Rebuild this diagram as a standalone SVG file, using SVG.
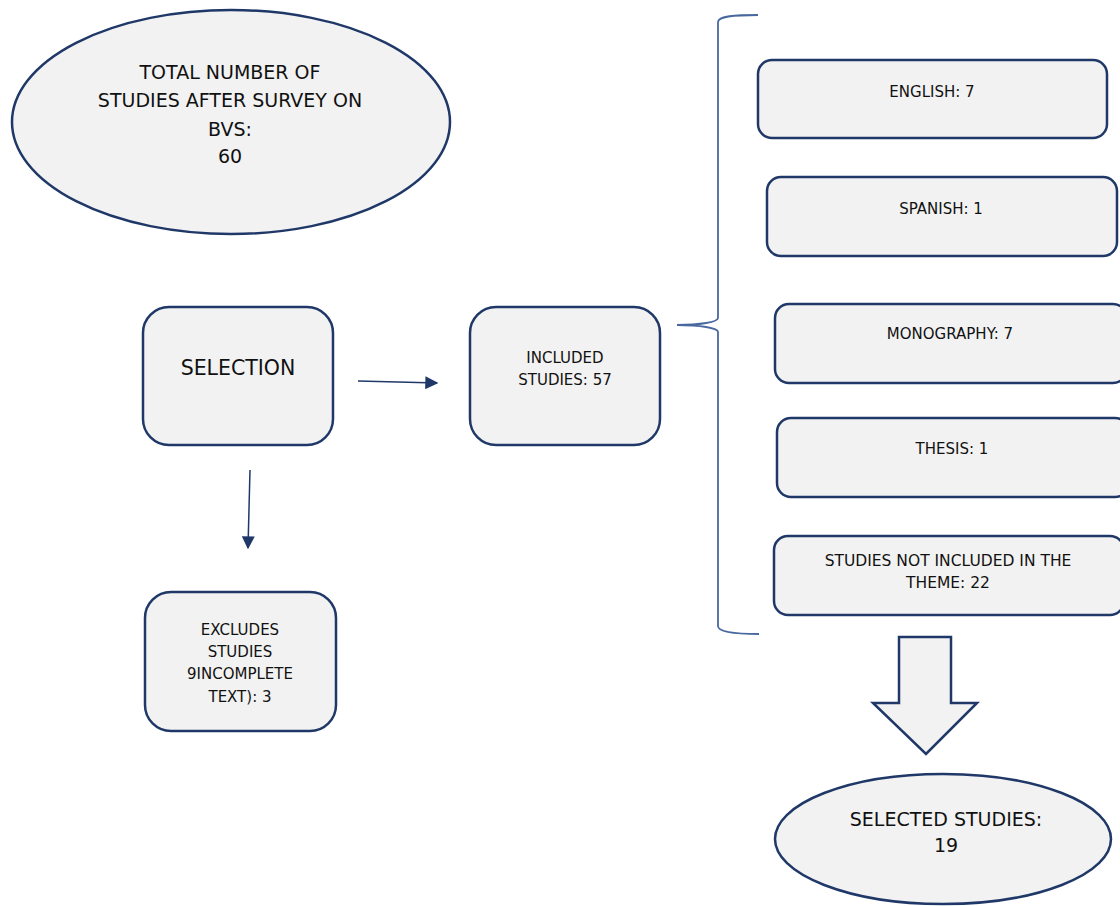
<svg xmlns="http://www.w3.org/2000/svg" width="1120" height="906" viewBox="0 0 1120 906">
<style>
.box{fill:#f2f2f2;stroke:#1f3868;stroke-width:2.5}
.t{font-family:"DejaVu Sans",sans-serif;fill:#111;text-anchor:middle}
.brace{fill:none;stroke:#4a68a0;stroke-width:1.8}
.conn{stroke:#1f3868;stroke-width:1.5;fill:none}
</style>
<defs>
<marker id="ah2" viewBox="0 0 10 10" refX="9" refY="5" markerWidth="13" markerHeight="13" markerUnits="userSpaceOnUse" orient="auto"><path d="M0,0 L10,5 L0,10 Z" fill="#1f3868"/></marker>
</defs>
<rect width="1120" height="906" fill="#fff"/>
<g id="total">
<ellipse class="box" cx="231" cy="122" rx="219" ry="112"/>
<text class="t" font-size="19"><tspan x="230" y="79">TOTAL NUMBER OF</tspan><tspan x="230" y="107">STUDIES AFTER SURVEY ON</tspan><tspan x="230" y="136">BVS:</tspan><tspan x="230" y="163">60</tspan></text>
</g>
<g id="selection">
<rect class="box" x="143" y="307" width="190" height="138" rx="26"/>
<text class="t" font-size="20.5" x="238" y="375">SELECTION</text>
</g>
<g id="included">
<rect class="box" x="470" y="307" width="190" height="138" rx="26"/>
<text class="t" font-size="15"><tspan x="565" y="363">INCLUDED</tspan><tspan x="565" y="385">STUDIES: 57</tspan></text>
</g>
<g id="excludes">
<rect class="box" x="145" y="592" width="191" height="139" rx="26"/>
<text class="t" font-size="15"><tspan x="240" y="635">EXCLUDES</tspan><tspan x="240" y="657">STUDIES</tspan><tspan x="240" y="679">9INCOMPLETE</tspan><tspan x="240" y="702">TEXT): 3</tspan></text>
</g>
<g id="english">
<rect class="box" x="758" y="60" width="349" height="78" rx="14"/>
<text class="t" font-size="15" x="932" y="97">ENGLISH: 7</text>
</g>
<g id="spanish">
<rect class="box" x="767" y="177" width="350" height="79" rx="14"/>
<text class="t" font-size="15" x="941" y="214">SPANISH: 1</text>
</g>
<g id="monography">
<rect class="box" x="775" y="304" width="352" height="79" rx="14"/>
<text class="t" font-size="15" x="950" y="339">MONOGRAPHY: 7</text>
</g>
<g id="thesis">
<rect class="box" x="777" y="418" width="352" height="79" rx="14"/>
<text class="t" font-size="15" x="952" y="454">THESIS: 1</text>
</g>
<g id="notincluded">
<rect class="box" x="774" y="536" width="350" height="79" rx="14"/>
<text class="t" font-size="15.5"><tspan x="948" y="566">STUDIES NOT INCLUDED IN THE</tspan><tspan x="948" y="588">THEME: 22</tspan></text>
</g>
<g id="bigarrow">
<path class="box" stroke-width="2" d="M899,637 L951,637 L951,703 L977,703 L926,754 L873,703 L899,703 Z"/>
</g>
<g id="selected">
<ellipse class="box" cx="943" cy="839" rx="168" ry="65"/>
<text class="t" font-size="19"><tspan x="946" y="826">SELECTED STUDIES:</tspan><tspan x="946" y="852">19</tspan></text>
</g>
<g id="connectors">
<line class="conn" x1="358" y1="381" x2="437" y2="383" marker-end="url(#ah2)"/>
<line class="conn" x1="250" y1="470" x2="248" y2="548" marker-end="url(#ah2)"/>
<path class="brace" d="M758,15 C735,15 718,16 718,22 L718,318 C718,322 700,325 677,325 C700,325 718,328 718,332 L718,626 C718,632 735,634 759,634"/>
</g>
</svg>
